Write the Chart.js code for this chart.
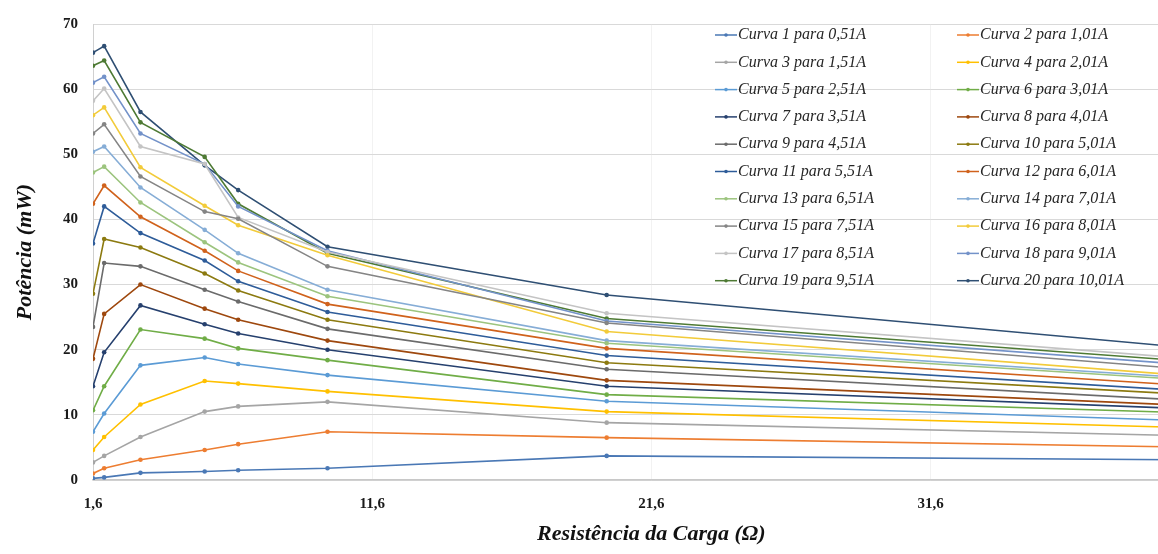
<!DOCTYPE html>
<html>
<head>
<meta charset="utf-8">
<script src="https://cdn.jsdelivr.net/npm/chart.js@4"></script>
<style>
html,body{margin:0;padding:0;background:#fff;overflow:hidden;width:1158px;height:554px;}
#wrap{position:relative;width:1158px;height:554px;overflow:hidden;}
canvas{display:block;}
</style>
</head>
<body>
<div id="wrap"><canvas id="c" width="1212" height="554"></canvas></div>
<script>
// Load resistance (Ω) for each measured point
const resistencias = [1.6, 2.0, 3.3, 5.6, 6.8, 10, 20, 47];
// Power (mW) per curve
const curva1  = [0.25, 0.4, 1.1, 1.3, 1.5, 1.8, 3.7, 2.9];
const curva2  = [1.0, 1.8, 3.1, 4.6, 5.5, 7.4, 6.5, 4.6];
const curva3  = [2.7, 3.7, 6.6, 10.5, 11.3, 12.0, 8.8, 6.2];
const curva4  = [4.6, 6.6, 11.6, 15.2, 14.8, 13.6, 10.5, 7.3];
const curva5  = [7.4, 10.2, 17.6, 18.8, 17.8, 16.1, 12.1, 8.2];
const curva6  = [10.7, 14.4, 23.1, 21.7, 20.2, 18.4, 13.1, 9.5];
const curva7  = [14.4, 19.6, 26.8, 23.9, 22.5, 20.0, 14.4, 9.9];
const curva8  = [18.6, 25.5, 30.0, 26.3, 24.6, 21.4, 15.3, 10.3];
const curva9  = [23.5, 33.3, 32.8, 29.2, 27.4, 23.2, 17.0, 10.8];
const curva10 = [28.6, 37.0, 35.7, 31.7, 29.1, 24.6, 18.0, 11.7];
const curva11 = [36.3, 42.0, 37.9, 33.7, 30.5, 25.8, 19.1, 12.1];
const curva12 = [42.4, 45.2, 40.4, 35.2, 32.1, 27.0, 20.2, 12.8];
const curva13 = [47.2, 48.1, 42.6, 36.5, 33.4, 28.2, 21.0, 13.7];
const curva14 = [50.4, 51.2, 44.9, 38.4, 34.8, 29.2, 21.4, 14.0];
const curva15 = [53.2, 54.6, 46.6, 41.2, 40.1, 32.8, 24.1, 14.9];
const curva16 = [56.0, 57.2, 48.0, 42.1, 39.1, 34.5, 22.8, 14.0];
const curva17 = [58.2, 60.1, 51.2, 48.5, 40.3, 35.0, 25.6, 16.6];
const curva18 = [61.0, 61.9, 53.2, 48.5, 42.0, 35.2, 24.4, 15.7];
const curva19 = [63.6, 64.4, 54.9, 49.6, 42.4, 34.8, 24.8, 16.3];
const curva20 = [65.6, 66.6, 56.5, 48.3, 44.5, 35.8, 28.4, 17.9];
const correntes = ['0,51A','1,01A','1,51A','2,01A','2,51A','3,01A','3,51A','4,01A','4,51A','5,01A',
                   '5,51A','6,01A','6,51A','7,01A','7,51A','8,01A','8,51A','9,01A','9,51A','10,01A'];
const xTicks = [1.6, 11.6, 21.6, 31.6];
const yTicks = [0, 10, 20, 30, 40, 50, 60, 70];

const series = [curva1,curva2,curva3,curva4,curva5,curva6,curva7,curva8,curva9,curva10,
                curva11,curva12,curva13,curva14,curva15,curva16,curva17,curva18,curva19,curva20];
const cores = ['#4A78B5','#ED7D31','#A5A5A5','#FFC000','#5B9BD5','#70AD47','#26406E','#9E480E','#6B6B6B','#8C7A10',
               '#2E5C99','#D0621C','#9CC47E','#86ADD6','#858585','#F2CB3A','#C4C4C4','#7392C9','#4E7A34','#2F4F73'];

const datasets = series.map((s, i) => ({
  label: 'Curva ' + (i + 1) + ' para ' + correntes[i],
  data: s.map((v, k) => ({x: resistencias[k], y: v})),
  borderColor: cores[i],
  backgroundColor: cores[i],
  borderWidth: 1.6,
  pointRadius: 2.3,
  pointBorderWidth: 0,
  pointHoverRadius: 2.3,
  tension: 0,
  fill: false
}));

const legendPlugin = {
  id: 'gridLegend',
  afterDraw(chart) {
    const ctx = chart.ctx;
    ctx.save();
    ctx.font = 'italic 16px "Liberation Serif", "Times New Roman", serif';
    ctx.textBaseline = 'middle';
    ctx.textAlign = 'left';
    chart.data.datasets.forEach((ds, i) => {
      const row = Math.floor(i / 2), col = i % 2;
      const y = 35 + row * 27.3;
      const x0 = col === 0 ? 715 : 957;
      ctx.strokeStyle = ds.borderColor;
      ctx.lineWidth = 1.5;
      ctx.beginPath(); ctx.moveTo(x0, y); ctx.lineTo(x0 + 22, y); ctx.stroke();
      ctx.fillStyle = ds.borderColor;
      ctx.beginPath(); ctx.arc(x0 + 11, y, 1.8, 0, Math.PI * 2); ctx.fill();
      ctx.fillStyle = '#262626';
      ctx.fillText(ds.label, x0 + 23, y);
    });
    ctx.restore();
  }
};

new Chart(document.getElementById('c'), {
  type: 'line',
  data: { datasets },
  plugins: [legendPlugin],
  options: {
    responsive: false,
    animation: false,
    layout: { padding: { left: 0, right: 0, top: 22, bottom: 0 } },
    plugins: { legend: { display: false }, tooltip: { enabled: false } },
    scales: {
      x: {
        type: 'linear',
        min: 1.6,
        max: 41.6,
        afterBuildTicks(scale) { scale.ticks = xTicks.map(v => ({value: v})); },
        afterFit(scale) { scale.height = 74; },
        grid: { display: true, drawTicks: false, color: '#F2F2F2', lineWidth: 1 },
        border: { display: true, color: '#C8C8C8', width: 1.5 },
        ticks: {
          padding: 15,
          color: '#1a1a1a',
          font: { family: '"Liberation Serif", "Times New Roman", serif', size: 15, weight: 'bold' },
          callback: v => String(v).replace('.', ',')
        },
        title: {
          display: true,
          text: 'Resistência da Carga (Ω)',
          color: '#111',
          font: { family: '"Liberation Serif", "Times New Roman", serif', size: 22, weight: 'bold', style: 'italic' },
          padding: { top: 0, bottom: 6 }
        }
      },
      y: {
        type: 'linear',
        min: 0,
        max: 70,
        afterBuildTicks(scale) { scale.ticks = yTicks.map(v => ({value: v})); },
        afterFit(scale) { scale.width = 93; },
        grid: { drawTicks: false, color: '#D9D9D9', lineWidth: 1 },
        border: { display: true, color: '#D0D0D0', width: 1 },
        ticks: {
          padding: 15,
          color: '#1a1a1a',
          font: { family: '"Liberation Serif", "Times New Roman", serif', size: 15, weight: 'bold' }
        },
        title: {
          display: true,
          text: 'Potência (mW)',
          color: '#111',
          font: { family: '"Liberation Serif", "Times New Roman", serif', size: 22, weight: 'bold', style: 'italic' },
          padding: { top: 12, bottom: 0 }
        }
      }
    }
  }
});
</script>
</body>
</html>
